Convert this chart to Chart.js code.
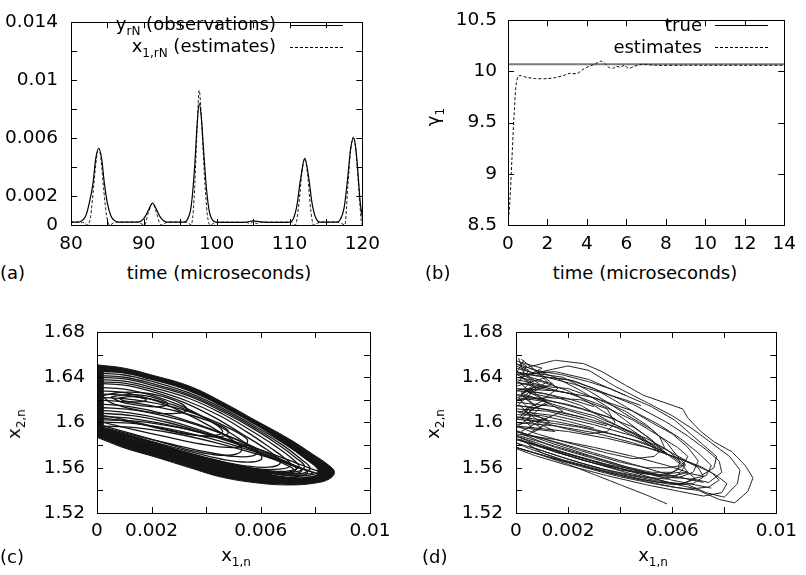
<!DOCTYPE html>
<html lang="en">
<head>
<meta charset="UTF-8">
<title>Observations, estimates and phase portraits</title>
<script src="https://cdn.jsdelivr.net/npm/chart.js"></script>
<style>
    body { margin: 0; background: #fff; }
    #fig { position: relative; width: 806px; height: 575px; overflow: hidden;
           font-family: "DejaVu Sans", sans-serif; font-size: 18px; color: #000; }
    #fig canvas { position: absolute; }
    .t { position: absolute; white-space: nowrap; line-height: 18px; }
    .t sub { font-size: 12px; vertical-align: baseline; position: relative; top: 5px; }
    .key { position: absolute; height: 0; border-top: 1px solid #000; }
    .key.dash { border-top-style: dashed; }
    .rot { transform: translate(-50%, -50%) rotate(-90deg); }
</style>
</head>
<body>
<div id="fig">
    <canvas id="chartA" width="390" height="255" style="left:0;top:0"></canvas>
    <canvas id="chartB" width="406" height="255" style="left:400px;top:0"></canvas>
    <canvas id="chartC" width="400" height="255" style="left:0;top:290px"></canvas>
    <canvas id="chartD" width="406" height="255" style="left:400px;top:290px"></canvas>

    <!-- panel (a) -->
    <div class="t" style="left:0;width:276px;text-align:right;top:15px">y<sub>rN</sub> (observations)</div>
    <div class="t" style="left:0;width:276px;text-align:right;top:37px">x<sub>1,rN</sub> (estimates)</div>
    <div class="key" style="left:290px;width:53px;top:25px"></div>
    <div class="key dash" style="left:290px;width:53px;top:47px"></div>
    <div class="t" style="left:69px;width:300px;text-align:center;top:264px">time (microseconds)</div>
    <div class="t" style="left:0;top:264px">(a)</div>

    <!-- panel (b) -->
    <div class="t" style="left:400px;width:302px;text-align:right;top:16px">true</div>
    <div class="t" style="left:400px;width:302px;text-align:right;top:38px">estimates</div>
    <div class="key" style="left:715px;width:53px;top:25px"></div>
    <div class="key dash" style="left:715px;width:53px;top:47px"></div>
    <div class="t rot" style="left:434px;top:117px">γ<sub>1</sub></div>
    <div class="t" style="left:495px;width:300px;text-align:center;top:264px">time (microseconds)</div>
    <div class="t" style="left:425px;top:264px">(b)</div>

    <!-- panel (c) -->
    <div class="t rot" style="left:15px;top:424px">x<sub>2,n</sub></div>
    <div class="t" style="left:186px;width:100px;text-align:center;top:546px">x<sub>1,n</sub></div>
    <div class="t" style="left:0;top:548px">(c)</div>

    <!-- panel (d) -->
    <div class="t rot" style="left:434px;top:424px">x<sub>2,n</sub></div>
    <div class="t" style="left:603px;width:100px;text-align:center;top:546px">x<sub>1,n</sub></div>
    <div class="t" style="left:422px;top:548px">(d)</div>
</div>

<script>
    // ---- (a) observations vs estimates ----
    const obsT = [80, 81, 81.5, 82, 82.5, 83, 83.4, 83.8, 84.2, 84.6, 85, 85.5, 86, 86.5, 88,
        89, 89.7, 90.2, 90.7, 91.2, 91.7, 92.2, 92.7, 93.3, 95, 95.5, 96, 96.5, 97, 97.3, 97.6,
        97.9, 98.2, 98.6, 99, 99.5, 100, 102, 104, 105, 106, 108, 110, 110.5, 111, 111.5, 112.1,
        112.6, 113.1, 113.6, 114.2, 116, 116.5, 117, 117.5, 118, 118.4, 118.8, 119.1, 119.4, 119.7, 120];
    const obsY = [0.0002, 0.0002, 0.0003, 0.0006, 0.0015, 0.0028, 0.0046, 0.0053, 0.0046, 0.0028, 0.0015,
        0.0006, 0.0003, 0.0002, 0.0002, 0.0002, 0.0003, 0.0006, 0.0011, 0.00152, 0.0011, 0.0006, 0.0003,
        0.0002, 0.0002, 0.0002, 0.0004, 0.0013, 0.0042, 0.0068, 0.0084, 0.0074, 0.0052, 0.0025, 0.0009,
        0.0003, 0.0002, 0.00018, 0.0002, 0.00028, 0.00022, 0.00018, 0.0002, 0.0004, 0.0013, 0.0031, 0.0046,
        0.0034, 0.0015, 0.0005, 0.0002, 0.0002, 0.0002, 0.0004, 0.0012, 0.0033, 0.0053, 0.0060, 0.0053,
        0.0036, 0.0016, 0.0005];
    const estT = [80, 81, 81.8, 82.3, 82.7, 83.1, 83.5, 83.8, 84.1, 84.5, 84.9, 85.3, 85.8, 86.5, 89,
        89.6, 90.1, 90.6, 91.2, 91.7, 92.2, 92.5, 93, 94, 95.5, 96.2, 96.5, 96.9, 97.3, 97.6, 97.9,
        98.3, 98.7, 99.1, 99.6, 100.5, 104, 104.6, 105, 105.5, 106, 108, 110.3, 110.8, 111.3, 111.7,
        112.1, 112.5, 112.9, 113.3, 113.8, 114.5, 116.5, 117.2, 117.6, 118, 118.4, 118.8, 119.1,
        119.5, 119.9, 120];
    const estY = [0.0002, 0.0002, 0.00015, 0, 0.0006, 0.0026, 0.0046, 0.0053, 0.0046, 0.0024, 0.0006, 0,
        0.00012, 0.0002, 0.0002, 0.0001, 0, 0.0008, 0.0015, 0.0009, 0.0001, 0, 0.00015, 0.0002, 0.0002,
        0.0001, 0, 0.0018, 0.0065, 0.0093, 0.0074, 0.0036, 0.0008, 0, 0.00012, 0.0002, 0.00018, 0.0001,
        0.00022, 0.0001, 0.00018, 0.0002, 0.0002, 0, 0.0015, 0.0036, 0.0046, 0.0034, 0.0011, 0, 0.00012,
        0.0002, 0.0002, 0.0001, 0, 0.0026, 0.0052, 0.0061, 0.0052, 0.0026, 0.0001, 0];
    const aXTicks = [80, 85, 90, 95, 100, 105, 110, 115, 120];
    const aXLabels = ['80', '', '90', '', '100', '', '110', '', '120'];
    const aYTicks = [0, 0.002, 0.004, 0.006, 0.008, 0.01, 0.012, 0.014];
    const aYLabels = ['0', '0.002', '', '0.006', '', '0.01', '', '0.014'];

    // ---- (b) gamma_1 estimate ----
    const trueT = [0, 14];
    const trueY = [10.07, 10.07];
    const gamT = [0, 0.1, 0.2, 0.3, 0.4, 0.5, 0.6, 0.8, 1.0, 1.4, 2.0, 2.4, 2.8, 3.1, 3.5, 3.8, 4.1,
        4.4, 4.7, 4.9, 5.1, 5.3, 5.5, 5.7, 5.9, 6.1, 6.4, 6.8, 7.5, 9, 11, 14];
    const gamY = [8.5, 8.75, 9.15, 9.55, 9.85, 9.95, 9.96, 9.95, 9.94, 9.93, 9.93, 9.94, 9.96, 9.98,
        9.98, 10.02, 10.05, 10.07, 10.10, 10.08, 10.04, 10.03, 10.05, 10.04, 10.06, 10.03, 10.05,
        10.07, 10.06, 10.06, 10.06, 10.06];
    const bXTicks = [0, 2, 4, 6, 8, 10, 12, 14];
    const bXLabels = ['0', '2', '4', '6', '8', '10', '12', '14'];
    const bYTicks = [8.5, 9, 9.5, 10, 10.5];
    const bYLabels = ['8.5', '9', '9.5', '10', '10.5'];

    // ---- (c), (d) phase plane (x1,n, x2,n) ----
    const pXTicks = [0, 0.002, 0.004, 0.006, 0.008, 0.01];
    const pXLabels = ['0', '0.002', '', '0.006', '', '0.01'];
    const pYTicks = [1.52, 1.54, 1.56, 1.58, 1.6, 1.62, 1.64, 1.66, 1.68];
    const pYLabels = ['1.52', '', '1.56', '', '1.6', '', '1.64', '', '1.68'];

    // outer envelope of the dense band and the lighter inside of it
    const cOuter = [[0, 1.651], [0.001, 1.648], [0.002, 1.642], [0.0034, 1.632], [0.0046, 1.618],
        [0.0058, 1.602], [0.007, 1.586], [0.0079, 1.572], [0.0085, 1.562], [0.0087, 1.556],
        [0.0085, 1.55], [0.008, 1.5465], [0.0071, 1.5448], [0.006, 1.5462], [0.0046, 1.5515],
        [0.0034, 1.56], [0.0022, 1.569], [0.001, 1.5775], [0.0003, 1.584], [0, 1.587]];
    const cInner = [[0.00025, 1.6445], [0.001, 1.6432], [0.002, 1.6375], [0.0034, 1.6272],
        [0.0046, 1.6135], [0.0058, 1.5975], [0.0068, 1.582], [0.0076, 1.568], [0.0081, 1.5585],
        [0.008, 1.5535], [0.0071, 1.552], [0.006, 1.5565], [0.0046, 1.564], [0.0034, 1.5715],
        [0.0022, 1.5795], [0.001, 1.5875], [0.00025, 1.5945]];
    const cLoops = [
        [[0, 1.6415], [0.001, 1.64], [0.002, 1.6345], [0.0034, 1.6245], [0.0046, 1.611], [0.0058, 1.595], [0.0068, 1.58], [0.0075, 1.567], [0.0078, 1.56], [0.0076, 1.5555], [0.007, 1.5545], [0.006, 1.5575], [0.0046, 1.5645], [0.0034, 1.5718], [0.0022, 1.5795], [0.001, 1.5875], [0, 1.593]],
        [[0, 1.64], [0.001, 1.6385], [0.002, 1.633], [0.0034, 1.623], [0.0046, 1.6095], [0.0058, 1.5935], [0.0067, 1.5795], [0.0073, 1.5685], [0.0076, 1.5615], [0.0074, 1.557], [0.0068, 1.556], [0.0058, 1.559], [0.0045, 1.5655], [0.0033, 1.573], [0.0021, 1.581], [0.001, 1.5885], [0, 1.5945]],
        [[0, 1.6435], [0.001, 1.642], [0.002, 1.6365], [0.0034, 1.626], [0.0046, 1.6125], [0.0058, 1.5965], [0.0069, 1.5805], [0.0077, 1.567], [0.0081, 1.5585], [0.008, 1.5545], [0.0073, 1.5525], [0.0062, 1.5555], [0.0048, 1.5625], [0.0035, 1.5705], [0.0022, 1.5785], [0.001, 1.5865], [0, 1.592]],
        [[0, 1.638], [0.001, 1.6365], [0.002, 1.631], [0.0034, 1.621], [0.0046, 1.6075], [0.0057, 1.592], [0.0066, 1.578], [0.0072, 1.567], [0.0074, 1.561], [0.0071, 1.5575], [0.0064, 1.557], [0.0054, 1.5605], [0.0042, 1.567], [0.003, 1.5745], [0.0018, 1.583], [0.0007, 1.591], [0, 1.596]],
        [[0, 1.636], [0.001, 1.6348], [0.002, 1.6292], [0.0033, 1.619], [0.0045, 1.606], [0.0055, 1.5915], [0.0063, 1.5785], [0.0069, 1.568], [0.0071, 1.562], [0.0067, 1.5588], [0.0059, 1.559], [0.0049, 1.5635], [0.0037, 1.5705], [0.0025, 1.5785], [0.0013, 1.5865], [0, 1.595]],
        [[0, 1.6345], [0.001, 1.633], [0.002, 1.6275], [0.0032, 1.6175], [0.0043, 1.6045], [0.0053, 1.59], [0.0061, 1.578], [0.0066, 1.569], [0.0067, 1.5635], [0.0063, 1.5605], [0.0055, 1.5615], [0.0045, 1.566], [0.0033, 1.5735], [0.0021, 1.582], [0.001, 1.5895], [0, 1.5955]],
        [[0, 1.631], [0.001, 1.6295], [0.002, 1.624], [0.003, 1.6155], [0.004, 1.6035], [0.0049, 1.5905], [0.0056, 1.579], [0.006, 1.5715], [0.006, 1.567], [0.0055, 1.565], [0.0047, 1.567], [0.0037, 1.5725], [0.0025, 1.58], [0.0013, 1.588], [0, 1.597]],
        [[0, 1.628], [0.001, 1.6265], [0.002, 1.6205], [0.0028, 1.613], [0.0037, 1.6025], [0.0045, 1.5915], [0.0051, 1.582], [0.0053, 1.5755], [0.005, 1.5715], [0.0043, 1.5715], [0.0034, 1.5755], [0.0023, 1.583], [0.0012, 1.5905], [0, 1.5985]],
        [[0.0002, 1.6235], [0.0008, 1.6265], [0.0016, 1.6265], [0.0024, 1.623], [0.0031, 1.6165], [0.0033, 1.611], [0.0029, 1.608], [0.0021, 1.6085], [0.0012, 1.6125], [0.0005, 1.6175], [0.0002, 1.6235]],
        [[0.0005, 1.6225], [0.001, 1.6245], [0.0017, 1.624], [0.0023, 1.6205], [0.0026, 1.6165], [0.0023, 1.614], [0.0016, 1.615], [0.0009, 1.618], [0.0005, 1.6225]],
        [[0.0008, 1.6218], [0.0012, 1.6228], [0.0016, 1.622], [0.0018, 1.6198], [0.0015, 1.6182], [0.001, 1.619], [0.0008, 1.6218]],
        [[0, 1.6255], [0.0014, 1.623], [0.0026, 1.617], [0.0036, 1.608], [0.0043, 1.599], [0.0046, 1.592], [0.0043, 1.5885], [0.0035, 1.589], [0.0024, 1.594], [0.0012, 1.6005], [0, 1.6045]],
        [[0, 1.6225], [0.0014, 1.62], [0.0028, 1.6135], [0.004, 1.604], [0.005, 1.593], [0.0055, 1.585], [0.0054, 1.5795], [0.0048, 1.578], [0.0038, 1.581], [0.0026, 1.587], [0.0013, 1.594], [0, 1.6015]],
        [[0, 1.62], [0.0015, 1.617], [0.003, 1.6095], [0.0042, 1.6005], [0.0048, 1.593], [0.0047, 1.5885], [0.0041, 1.5875], [0.0031, 1.591], [0.0019, 1.5975], [0.0008, 1.6035], [0, 1.607]],
        [[0, 1.6165], [0.0012, 1.614], [0.0025, 1.6075], [0.0038, 1.5975], [0.005, 1.586], [0.0061, 1.5745], [0.0069, 1.5655], [0.0073, 1.5595], [0.0071, 1.5555], [0.0064, 1.5555], [0.0053, 1.5595], [0.004, 1.5665], [0.0027, 1.5745], [0.0014, 1.583], [0.0003, 1.591], [0, 1.594]],
        [[0, 1.6135], [0.0015, 1.6105], [0.003, 1.6025], [0.0043, 1.5925], [0.0054, 1.582], [0.0059, 1.575], [0.0057, 1.5705], [0.005, 1.57], [0.0039, 1.5745], [0.0027, 1.581], [0.0014, 1.5885], [0, 1.597]],
        [[0, 1.611], [0.0012, 1.6085], [0.0025, 1.6025], [0.0038, 1.593], [0.005, 1.5825], [0.006, 1.5725], [0.0068, 1.564], [0.0072, 1.5585], [0.0069, 1.5555], [0.0061, 1.5565], [0.005, 1.5605], [0.0037, 1.5675], [0.0024, 1.576], [0.0012, 1.5845], [0, 1.592]],
        [[0, 1.6085], [0.0013, 1.606], [0.0026, 1.6], [0.0039, 1.591], [0.0052, 1.581], [0.0063, 1.5715], [0.0071, 1.5635], [0.0075, 1.558], [0.0073, 1.555], [0.0066, 1.555], [0.0056, 1.5585], [0.0043, 1.565], [0.0029, 1.573], [0.0016, 1.5815], [0.0004, 1.5895], [0, 1.593]],
        [[0, 1.6055], [0.0013, 1.6035], [0.0027, 1.5975], [0.004, 1.5895], [0.0053, 1.5795], [0.0064, 1.5695], [0.0072, 1.5615], [0.0077, 1.5565], [0.0076, 1.5535], [0.007, 1.5535], [0.006, 1.557], [0.0047, 1.5635], [0.0033, 1.5715], [0.002, 1.5795], [0.0008, 1.5875], [0, 1.5925]],
        [[0, 1.6025], [0.0015, 1.601], [0.003, 1.5955], [0.0045, 1.587], [0.0059, 1.5765], [0.007, 1.567], [0.0078, 1.5595], [0.0083, 1.5545], [0.0082, 1.551], [0.0075, 1.5495], [0.0063, 1.552], [0.0048, 1.5585], [0.0034, 1.566], [0.002, 1.574], [0.0008, 1.5825], [0, 1.589]],
        [[0, 1.6005], [0.0014, 1.599], [0.0028, 1.5935], [0.0042, 1.5855], [0.0056, 1.5755], [0.0067, 1.5665], [0.0075, 1.5595], [0.0079, 1.5555], [0.0077, 1.5545], [0.007, 1.5548], [0.0058, 1.5585], [0.0044, 1.565], [0.003, 1.573], [0.0017, 1.581], [0.0006, 1.589], [0, 1.594]],
        [[0, 1.597], [0.0014, 1.5955], [0.0028, 1.5905], [0.0043, 1.5825], [0.0058, 1.5725], [0.007, 1.5635], [0.0078, 1.557], [0.0082, 1.553], [0.008, 1.5505], [0.0072, 1.5505], [0.006, 1.5545], [0.0046, 1.561], [0.0032, 1.569], [0.0018, 1.577], [0.0006, 1.5855], [0, 1.5905]]
    ];

    const dLoops = [
        [[0.0003, 1.648], [0.0015, 1.655], [0.0026, 1.652], [0.0033, 1.645], [0.0042, 1.633], [0.0049, 1.624], [0.0064, 1.612], [0.0066, 1.604], [0.0071, 1.592], [0.0076, 1.583], [0.0083, 1.574], [0.0088, 1.562], [0.0091, 1.551], [0.0089, 1.539], [0.0084, 1.529], [0.0078, 1.532], [0.007, 1.54], [0.006, 1.543], [0.005, 1.548], [0.0035, 1.556], [0.002, 1.565], [0.001, 1.573], [0.0002, 1.585]],
        [[0.0002, 1.64], [0.001, 1.645], [0.002, 1.65], [0.0028, 1.646], [0.0038, 1.632], [0.005, 1.618], [0.006, 1.606], [0.0068, 1.594], [0.0075, 1.582], [0.0082, 1.57], [0.0086, 1.558], [0.0085, 1.546], [0.008, 1.534], [0.0073, 1.538], [0.0066, 1.545], [0.0055, 1.548], [0.004, 1.555], [0.0025, 1.564], [0.001, 1.575], [0, 1.582]],
        [[0, 1.632], [0.0012, 1.64], [0.0022, 1.637], [0.0032, 1.628], [0.0045, 1.616], [0.0058, 1.6], [0.0066, 1.588], [0.0073, 1.576], [0.0078, 1.566], [0.0079, 1.556], [0.0074, 1.547], [0.0068, 1.55], [0.0063, 1.545], [0.0055, 1.549], [0.0042, 1.556], [0.003, 1.564], [0.0015, 1.574], [0, 1.588]],
        [[0, 1.645], [0.0008, 1.641], [0.002, 1.638], [0.003, 1.63], [0.0042, 1.614], [0.0052, 1.6], [0.006, 1.59], [0.0066, 1.578], [0.007, 1.566], [0.0068, 1.556], [0.0062, 1.551], [0.0055, 1.552], [0.0045, 1.558], [0.003, 1.568], [0.0015, 1.578], [0.0002, 1.59]],
        [[0, 1.65], [0.0006, 1.644], [0.0018, 1.64], [0.0028, 1.628], [0.0035, 1.618], [0.0043, 1.606], [0.0052, 1.594], [0.0058, 1.582], [0.0062, 1.57], [0.0065, 1.563], [0.006, 1.556], [0.0052, 1.556], [0.0042, 1.561], [0.0028, 1.571], [0.0012, 1.583], [0, 1.593]],
        [[0, 1.628], [0.001, 1.632], [0.002, 1.63], [0.0032, 1.62], [0.0042, 1.61], [0.005, 1.598], [0.0055, 1.588], [0.0057, 1.578], [0.0053, 1.57], [0.0045, 1.568], [0.0035, 1.573], [0.002, 1.582], [0.0008, 1.59], [0, 1.597]],
        [[0, 1.62], [0.0012, 1.622], [0.0025, 1.62], [0.0035, 1.612], [0.0038, 1.6], [0.0035, 1.592], [0.0028, 1.59], [0.002, 1.594], [0.001, 1.6], [0, 1.605]],
        [[0, 1.636], [0.001, 1.63], [0.002, 1.626], [0.0032, 1.616], [0.0045, 1.602], [0.0055, 1.588], [0.0062, 1.578], [0.0066, 1.57], [0.0064, 1.562], [0.0058, 1.56], [0.005, 1.56], [0.004, 1.565], [0.0025, 1.575], [0.001, 1.586], [0, 1.592]],
        [[0, 1.615], [0.001, 1.612], [0.0025, 1.605], [0.004, 1.595], [0.005, 1.586], [0.0058, 1.576], [0.0063, 1.566], [0.0062, 1.558], [0.0057, 1.553], [0.0048, 1.555], [0.0035, 1.562], [0.002, 1.572], [0.0008, 1.582], [0, 1.588]],
        [[0, 1.61], [0.0015, 1.606], [0.003, 1.598], [0.0045, 1.588], [0.0056, 1.578], [0.0064, 1.568], [0.007, 1.56], [0.0072, 1.552], [0.0068, 1.546], [0.006, 1.545], [0.0048, 1.55], [0.0033, 1.558], [0.0018, 1.567], [0.0005, 1.577], [0, 1.582]],
        [[0, 1.605], [0.0015, 1.601], [0.003, 1.594], [0.0043, 1.586], [0.0053, 1.578], [0.006, 1.57], [0.0065, 1.562], [0.0063, 1.556], [0.0055, 1.554], [0.0045, 1.557], [0.003, 1.564], [0.0015, 1.574], [0, 1.585]],
        [[0, 1.6], [0.0015, 1.597], [0.003, 1.591], [0.0045, 1.582], [0.0058, 1.572], [0.0068, 1.563], [0.0075, 1.556], [0.0078, 1.549], [0.0074, 1.543], [0.0066, 1.541], [0.0055, 1.545], [0.004, 1.552], [0.0025, 1.561], [0.001, 1.571], [0, 1.578]],
        [[0, 1.597], [0.002, 1.592], [0.0035, 1.586], [0.005, 1.578], [0.0062, 1.569], [0.0071, 1.561], [0.0077, 1.553], [0.0081, 1.546], [0.0079, 1.538], [0.0072, 1.535], [0.0063, 1.539], [0.005, 1.545], [0.0035, 1.553], [0.002, 1.562], [0.0007, 1.571], [0, 1.577]],
        [[0, 1.625], [0.0012, 1.62], [0.0025, 1.612], [0.0035, 1.605], [0.0045, 1.596], [0.0052, 1.585], [0.0058, 1.572], [0.0064, 1.562], [0.0066, 1.556], [0.0061, 1.553], [0.0052, 1.554], [0.004, 1.558], [0.0025, 1.567], [0.0012, 1.577], [0, 1.586]],
        [[0, 1.63], [0.0015, 1.628], [0.003, 1.622], [0.0045, 1.61], [0.0055, 1.598], [0.0063, 1.586], [0.007, 1.573], [0.0075, 1.562], [0.0073, 1.553], [0.0067, 1.55], [0.0059, 1.552], [0.005, 1.556], [0.0035, 1.563], [0.002, 1.572], [0.0005, 1.582]],
        [[0, 1.642], [0.0015, 1.645], [0.0028, 1.638], [0.004, 1.626], [0.0052, 1.614], [0.0061, 1.602], [0.0067, 1.59], [0.0072, 1.58], [0.0077, 1.57], [0.0076, 1.56], [0.0071, 1.553], [0.0064, 1.556], [0.0058, 1.55], [0.0048, 1.552], [0.0033, 1.559], [0.0018, 1.569], [0.0005, 1.579]],
        [[0, 1.59], [0.0015, 1.585], [0.003, 1.578], [0.0045, 1.57], [0.0058, 1.562], [0.0066, 1.556], [0.0069, 1.55], [0.0064, 1.546], [0.0055, 1.547], [0.0042, 1.552], [0.0028, 1.56], [0.0012, 1.57], [0, 1.578]],
        [[0, 1.64], [0.001, 1.636], [0.002, 1.628], [0.003, 1.615], [0.004, 1.6], [0.0048, 1.588], [0.0055, 1.575]],
        [[0, 1.63], [0.0012, 1.625], [0.0025, 1.615], [0.0035, 1.602], [0.0045, 1.59], [0.0055, 1.577], [0.0058, 1.571]],
        [[0.0005, 1.648], [0.0015, 1.64], [0.0025, 1.628], [0.0035, 1.614], [0.0042, 1.602], [0.005, 1.588], [0.0056, 1.576]],
        [[0, 1.618], [0.0015, 1.614], [0.003, 1.604], [0.004, 1.594], [0.0048, 1.585], [0.0055, 1.574]],
        [[0, 1.644], [0.001, 1.641], [0.0022, 1.634], [0.0032, 1.627], [0.0042, 1.62], [0.0048, 1.615]],
        [[0, 1.624], [0.001, 1.62], [0.002, 1.616], [0.003, 1.609], [0.0038, 1.603]],
        [[0, 1.612], [0.0012, 1.61], [0.0025, 1.603], [0.0035, 1.597]],
        [[0, 1.652], [0.0008, 1.646], [0.0018, 1.642], [0.0028, 1.636], [0.0036, 1.63], [0.0042, 1.624]],
        [[0, 1.622], [0.001, 1.619], [0.002, 1.612], [0.003, 1.606], [0.0038, 1.598], [0.0046, 1.59], [0.0052, 1.58]],
        [[0, 1.603], [0.0012, 1.6], [0.0024, 1.596], [0.0036, 1.59], [0.0048, 1.583], [0.0058, 1.573]],
        [[0, 1.635], [0.0008, 1.633], [0.0016, 1.628], [0.0024, 1.624]],
        [[0, 1.615], [0.0008, 1.613], [0.0018, 1.609], [0.0026, 1.604]],
        [[0, 1.628], [0.001, 1.626], [0.002, 1.621], [0.003, 1.614]],
        [[0, 1.607], [0.001, 1.606], [0.002, 1.601], [0.003, 1.595]],
        // dense zig-zags close to x1 = 0
        [[0, 1.655], [0.0004, 1.65], [0.0002, 1.64], [0.0007, 1.632], [0.0003, 1.622], [0.0009, 1.612], [0.0004, 1.603], [0.001, 1.595], [0.0003, 1.588]],
        [[0.0002, 1.656], [0.0008, 1.645], [0.0012, 1.636], [0.0006, 1.628], [0.0012, 1.618], [0.0005, 1.61], [0.0013, 1.6], [0.0006, 1.592]],
        [[0, 1.648], [0.001, 1.642], [0.0016, 1.63], [0.001, 1.62], [0.0018, 1.61], [0.0008, 1.6], [0.0015, 1.592], [0, 1.596]],
        [[0, 1.652], [0.0005, 1.646], [0.0001, 1.636], [0.0006, 1.626], [0.0001, 1.616], [0.0006, 1.606], [0.0001, 1.597]],
        [[0.0001, 1.657], [0.0003, 1.644], [0.0009, 1.634], [0.0002, 1.625], [0.0008, 1.614], [0.0002, 1.604], [0.0007, 1.594]],
        [[0, 1.645], [0.0006, 1.638], [0.0003, 1.629], [0.0011, 1.62], [0.0003, 1.611], [0.0009, 1.601], [0.0002, 1.592]],
        [[0.0003, 1.655], [0, 1.643], [0.0007, 1.634], [0.0001, 1.622], [0.0005, 1.612], [0, 1.602]],
        [[0, 1.638], [0.0012, 1.632], [0.0002, 1.626], [0.0013, 1.617], [0.0001, 1.609], [0.0012, 1.603], [0, 1.598]],
        [[0.0002, 1.653], [0.001, 1.648], [0.0004, 1.641], [0.0014, 1.634], [0.0005, 1.626], [0.0014, 1.622]],
        // lower bundle and the lowest trajectory
        [[0, 1.592], [0.0015, 1.583], [0.003, 1.573], [0.0045, 1.563], [0.006, 1.553], [0.0072, 1.547]],
        [[0, 1.589], [0.0015, 1.579], [0.003, 1.569], [0.0045, 1.559], [0.006, 1.549], [0.0075, 1.542]],
        [[0, 1.585], [0.0015, 1.576], [0.003, 1.566], [0.0045, 1.556], [0.006, 1.546], [0.007, 1.541]],
        [[0, 1.578], [0.001, 1.571], [0.002, 1.563], [0.003, 1.554], [0.004, 1.545], [0.005, 1.536], [0.0058, 1.528]]
    ];

    const tickFont = { family: 'DejaVu Sans', size: 18.5, lineHeight: 1 };
    const toXY = (xs, ys) => xs.map((x, i) => ({ x: x, y: ys[i] }));
    const pairs = arr => arr.map(p => ({ x: p[0], y: p[1] }));

    // gnuplot-like frame with inward ticks on all four sides
    const frameTicks = {
        id: 'frameTicks',
        afterDatasetsDraw(chart) {
            const { ctx, chartArea: a, scales: { x, y } } = chart;
            const len = 6;
            ctx.save();
            ctx.strokeStyle = '#000';
            ctx.lineWidth = 1;
            ctx.beginPath();
            x.ticks.forEach(t => {
                const px = Math.round(x.getPixelForValue(t.value)) + 0.5;
                ctx.moveTo(px, a.bottom); ctx.lineTo(px, a.bottom - len);
                ctx.moveTo(px, a.top); ctx.lineTo(px, a.top + len);
            });
            y.ticks.forEach(t => {
                const py = Math.round(y.getPixelForValue(t.value)) + 0.5;
                ctx.moveTo(a.left, py); ctx.lineTo(a.left + len, py);
                ctx.moveTo(a.right, py); ctx.lineTo(a.right - len, py);
            });
            ctx.stroke();
            ctx.strokeRect(Math.round(a.left) + 0.5, Math.round(a.top) + 0.5,
                Math.round(a.right - a.left), Math.round(a.bottom - a.top));
            ctx.restore();
        }
    };

    function makeChart(id, datasets, o) {
        return new Chart(document.getElementById(id), {
            type: 'line',
            data: { datasets: datasets },
            options: {
                responsive: false,
                animation: false,
                events: [],
                devicePixelRatio: 1,
                layout: { autoPadding: false, padding: { left: 0, top: o.top, right: o.right, bottom: 0 } },
                plugins: { legend: { display: false }, tooltip: { enabled: false } },
                elements: { point: { radius: 0, hoverRadius: 0 } },
                scales: {
                    x: {
                        type: 'linear', min: o.xMin, max: o.xMax,
                        grid: { display: false, drawTicks: false }, border: { display: false },
                        afterBuildTicks: s => { s.ticks = o.xTicks.map(v => ({ value: v })); },
                        afterFit: s => { s.height = o.xH; },
                        ticks: { autoSkip: false, maxRotation: 0, minRotation: 0, padding: o.xPad,
                                 color: '#000', font: tickFont, callback: (v, i) => o.xLabels[i] }
                    },
                    y: {
                        type: 'linear', min: o.yMin, max: o.yMax,
                        grid: { display: false, drawTicks: false }, border: { display: false },
                        afterBuildTicks: s => { s.ticks = o.yTicks.map(v => ({ value: v })); },
                        afterFit: s => { s.width = o.yW; },
                        ticks: { autoSkip: false, padding: o.yPad, color: '#000', font: tickFont,
                                 callback: (v, i) => o.yLabels[i] }
                    }
                }
            },
            plugins: [frameTicks]
        });
    }

    // Grafik (a)
    makeChart('chartA', [
        { data: toXY(obsT, obsY), borderColor: '#000', borderWidth: 1.2, cubicInterpolationMode: 'monotone', fill: false },
        { data: toXY(estT, estY), borderColor: '#222', borderWidth: 1, borderDash: [3, 2], cubicInterpolationMode: 'monotone', fill: false }
    ], { top: 13, right: 22, xH: 30, yW: 71, xPad: 10, yPad: 13,
         xMin: 80, xMax: 120, xTicks: aXTicks, xLabels: aXLabels,
         yMin: 0, yMax: 0.014, yTicks: aYTicks, yLabels: aYLabels });

    // Grafik (b)
    makeChart('chartB', [
        { data: toXY(gamT, gamY), borderColor: '#111', borderWidth: 1, borderDash: [3, 2], tension: 0.3, fill: false },
        { data: toXY(trueT, trueY), borderColor: '#7a7a7a', borderWidth: 2, fill: false }
    ], { top: 13, right: 12, xH: 30, yW: 108, xPad: 10, yPad: 11,
         xMin: 0, xMax: 14, xTicks: bXTicks, xLabels: bXLabels,
         yMin: 8.5, yMax: 10.5, yTicks: bYTicks, yLabels: bYLabels });

    // Grafik (c): filled band, lighter inside, then the trajectory loops
    const cSets = cLoops.map(l => ({ data: pairs(l), borderColor: '#151515', borderWidth: 1.3, tension: 0.4, fill: false, order: 1 }));
    cSets.push({ data: pairs(cInner), borderWidth: 0, borderColor: '#fff', backgroundColor: '#fff', tension: 0.4, fill: 'shape', order: 2 });
    cSets.push({ data: pairs(cOuter), borderWidth: 1, borderColor: '#151515', backgroundColor: '#151515', tension: 0.4, fill: 'shape', order: 3 });
    makeChart('chartC', cSets, { top: 42, right: 30, xH: 32, yW: 97, xPad: 9, yPad: 12,
         xMin: 0, xMax: 0.01, xTicks: pXTicks, xLabels: pXLabels,
         yMin: 1.52, yMax: 1.68, yTicks: pYTicks, yLabels: pYLabels });

    // Grafik (d): estimated trajectory
    const dSets = dLoops.map(l => ({ data: pairs(l), borderColor: '#1a1a1a', borderWidth: 1, tension: 0.01, fill: false }));
    makeChart('chartD', dSets, { top: 42, right: 17, xH: 32, yW: 116, xPad: 9, yPad: 13,
         xMin: 0, xMax: 0.01, xTicks: pXTicks, xLabels: pXLabels,
         yMin: 1.52, yMax: 1.68, yTicks: pYTicks, yLabels: pYLabels });
</script>
</body>
</html>
